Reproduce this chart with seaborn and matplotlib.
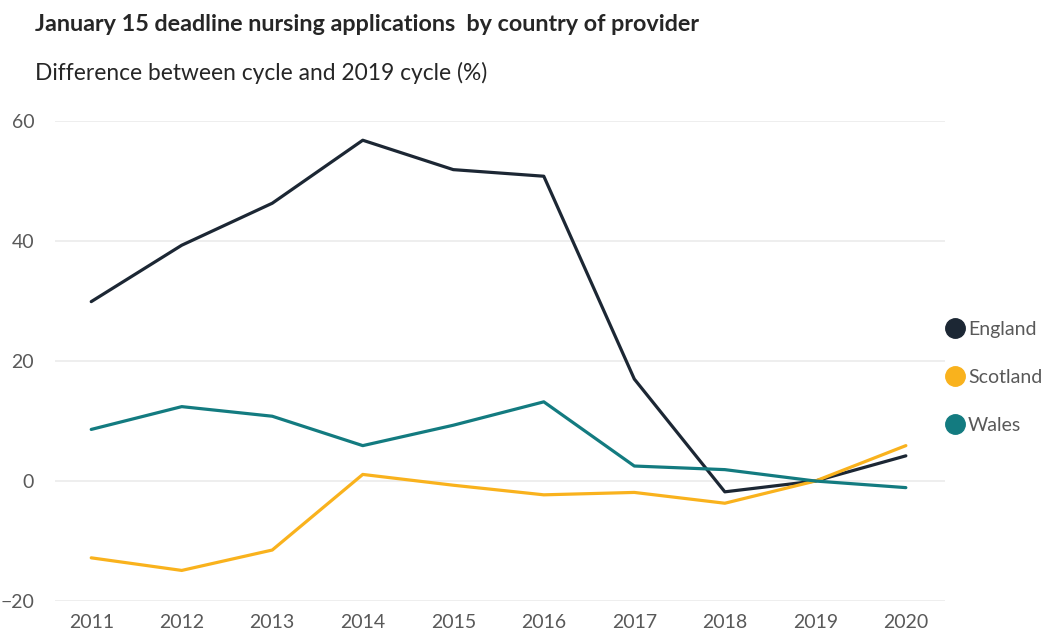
import pandas as pd
import matplotlib.pyplot as plt
from matplotlib.lines import Line2D
import seaborn as sns

years = [2011, 2012, 2013, 2014, 2015, 2016, 2017, 2018, 2019, 2020]
england = [29.9, 39.3, 46.3, 56.8, 51.9, 50.8, 17.0, -1.8, 0.0, 4.2]
scotland = [-12.8, -14.9, -11.5, 1.1, -0.7, -2.3, -1.9, -3.7, 0.0, 5.9]
wales = [8.6, 12.4, 10.8, 5.9, 9.3, 13.2, 2.5, 1.9, 0.0, -1.1]
countries = ["England", "Scotland", "Wales"]
colors = ["#1c2734", "#f9b21d", "#137b80"]

df = pd.DataFrame({"year": years * 3,
                   "value": england + scotland + wales,
                   "country": [c for c in countries for _ in years]})

sns.set_theme(style="white")
plt.rcParams["font.family"] = ["Lato", "DejaVu Sans"]

fig = plt.figure(figsize=(10.48, 6.35), dpi=100)
ax = fig.add_axes([0.0525, 0.0535, 0.849, 0.7559])

sns.lineplot(data=df, x="year", y="value", hue="country", palette=colors,
             linewidth=2.3, legend=False, ax=ax)

ax.set_xlim(2010.6, 2020.43)
ax.set_ylim(-20, 60)
ax.set_xticks(years)
ax.set_yticks([-20, 0, 20, 40, 60])
ax.grid(axis="y", color="#ebebeb", linewidth=1.2)
ax.set_axisbelow(True)
for s in ax.spines.values():
    s.set_visible(False)
ax.set_xlabel("")
ax.set_ylabel("")
ax.tick_params(axis="both", length=0, labelsize=14, labelcolor="#595959")
ax.tick_params(axis="x", pad=9)
ax.tick_params(axis="y", pad=15)

fig.text(0.033, 0.962, "January 15 deadline nursing applications  by country of provider",
         fontsize=16.8, fontweight="bold", color="#262626", va="center")
fig.text(0.033, 0.885, "Difference between cycle and 2019 cycle (%)",
         fontsize=16.4, color="#262626", va="center")

handles = [Line2D([], [], marker="o", linestyle="", markersize=14, color=c) for c in colors]
fig.legend(handles, countries, loc="center left", bbox_to_anchor=(0.881, 0.406),
           frameon=False, fontsize=14, labelcolor="#595959", handletextpad=-0.1,
           labelspacing=1.6, handlelength=1.5)

fig.savefig("out.png", dpi=100)
